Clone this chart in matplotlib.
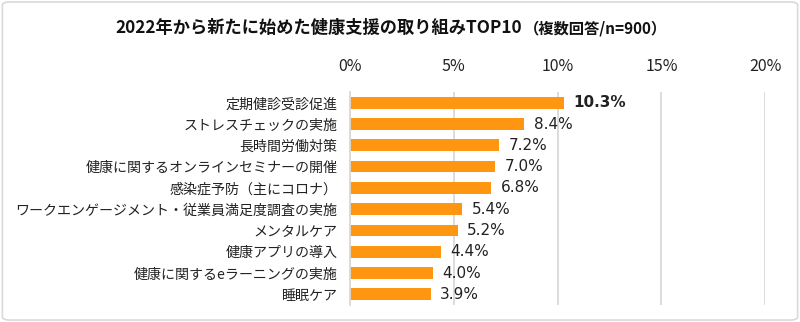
import numpy as np
import matplotlib.pyplot as plt
from matplotlib.patches import FancyBboxPatch

plt.rcParams['font.family'] = ['Noto Sans CJK JP', 'DejaVu Sans']

categories = ['定期健診受診促進', 'ストレスチェックの実施', '長時間労働対策',
              '健康に関するオンラインセミナーの開催', '感染症予防（主にコロナ）',
              'ワークエンゲージメント・従業員満足度調査の実施', 'メンタルケア',
              '健康アプリの導入', '健康に関するeラーニングの実施', '睡眠ケア']
values = [10.3, 8.4, 7.2, 7.0, 6.8, 5.4, 5.2, 4.4, 4.0, 3.9]
ticks = [0, 5, 10, 15, 20]

fig = plt.figure(figsize=(8, 3.22), dpi=100)
ax = fig.add_axes([0.4375, 0.053, 0.519, 0.661])

y = np.arange(len(categories))
ax.barh(y, values, height=0.55, color='#FF9612', zorder=3)
ax.set_ylim(len(categories) - 0.5, -0.5)
ax.set_xlim(0, 20)
ax.set_yticks(y)
ax.set_yticklabels(categories, fontsize=10.1, color='#222222')
ax.set_xticks(ticks)
ax.set_xticklabels([f'{t}%' for t in ticks], fontsize=11.5, color='#222222')
ax.xaxis.tick_top()
ax.tick_params(axis='x', length=0, pad=12)
ax.tick_params(axis='y', length=0, pad=9)
ax.grid(axis='x', color='#D9D9D9', linewidth=1.3, zorder=0)
for s in ['top', 'right', 'bottom']:
    ax.spines[s].set_visible(False)
ax.spines['left'].set_color('#D9D9D9')
ax.spines['left'].set_linewidth(1.3)
ax.spines['left'].set_zorder(4)

for i, v in enumerate(values):
    ax.text(v + 0.45, i, f'{v:.1f}%', va='center', ha='left',
            fontsize=11, color='#222222', family=['DejaVu Sans'],
            fontweight='bold' if i == 0 else 'normal')

fig.text(0.652, 0.912, '2022年から新たに始めた健康支援の取り組みTOP10',
         ha='right', va='center', fontsize=12.4, fontweight='bold', color='#111111')
fig.text(0.655, 0.910, '（複数回答/n=900）',
         ha='left', va='center', fontsize=11, fontweight='bold', color='#111111')

fig.patches.append(FancyBboxPatch((0.003, 0.006), 0.994, 0.988,
                                  boxstyle='round,pad=0,rounding_size=0.01',
                                  transform=fig.transFigure, fill=False,
                                  edgecolor='#D9D9D9', linewidth=1.2))

fig.savefig('out.png', dpi=100)
